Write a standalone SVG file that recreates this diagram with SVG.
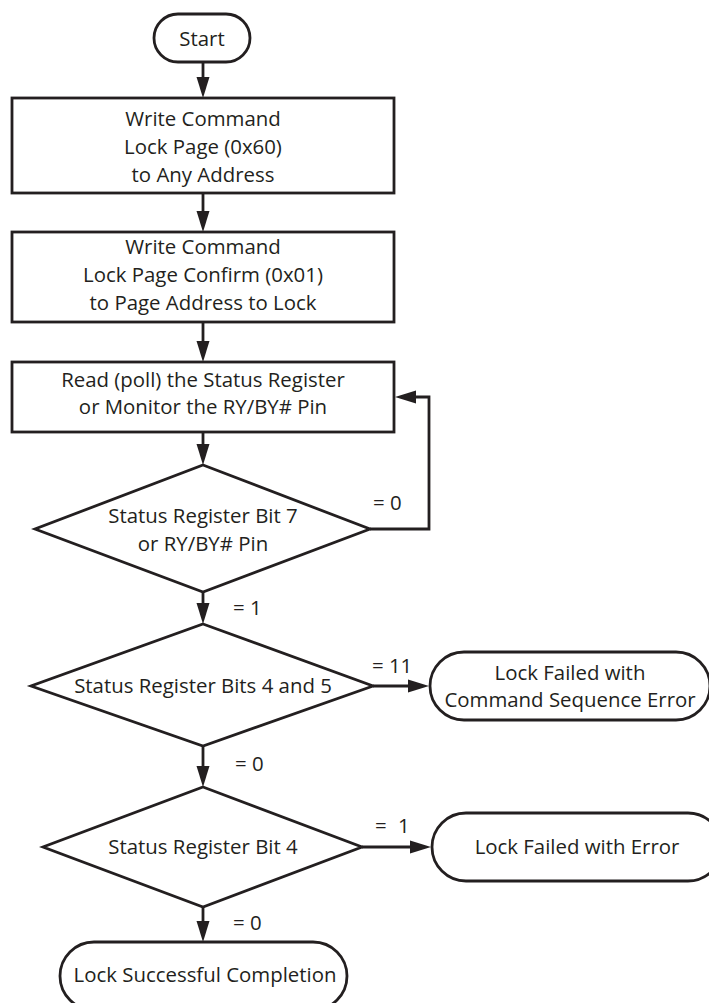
<svg xmlns="http://www.w3.org/2000/svg" width="709" height="1003" viewBox="0 0 709 1003">
  <style>
    .shape { fill: #ffffff; stroke: #231f20; stroke-width: 2.8; }
    .wire { fill: none; stroke: #231f20; stroke-width: 2.8; }
    text { font-family: "Open Sans", "Liberation Sans", sans-serif; font-size: 20.4px; fill: #231f20; }
    .c { text-anchor: middle; }
  </style>
  <defs>
    <marker id="arrow" markerUnits="userSpaceOnUse" markerWidth="22" markerHeight="14" viewBox="0 0 22 14" refX="11" refY="7" orient="auto">
      <path d="M0,0.5 L21,7 L0,13.5 Z" fill="#231f20"/>
    </marker>
  </defs>
  <rect width="709" height="1003" fill="#ffffff"/>

  <g id="connectors">
    <path class="wire" d="M203,62 V88" marker-end="url(#arrow)"/>
    <path class="wire" d="M203,193 V222" marker-end="url(#arrow)"/>
    <path class="wire" d="M203,322 V352" marker-end="url(#arrow)"/>
    <path class="wire" d="M203,432 V455" marker-end="url(#arrow)"/>
    <path class="wire" d="M203,592 V614" marker-end="url(#arrow)"/>
    <path class="wire" d="M203,746 V777" marker-end="url(#arrow)"/>
    <path class="wire" d="M203,907 V932" marker-end="url(#arrow)"/>
    <path class="wire" d="M370,529 H429 V397 H405" marker-end="url(#arrow)"/>
    <path class="wire" d="M373,686 H419" marker-end="url(#arrow)"/>
    <path class="wire" d="M362,847 H421" marker-end="url(#arrow)"/>
    <text x="373" y="510">= 0</text>
    <text x="233" y="615">= 1</text>
    <text x="372" y="673">= 11</text>
    <text x="235" y="771">= 0</text>
    <text x="375" y="833" word-spacing="6">= 1</text>
    <text x="233" y="930">= 0</text>
  </g>

  <g id="start">
    <rect class="shape" x="154" y="14" width="96" height="48" rx="24"/>
    <text class="c" x="202" y="46">Start</text>
  </g>

  <g id="write-lock-page">
    <rect class="shape" x="12" y="98" width="382" height="95"/>
    <text class="c" x="203" y="126.3">Write Command</text>
    <text class="c" x="203" y="154">Lock Page (0x60)</text>
    <text class="c" x="203" y="181.7">to Any Address</text>
  </g>

  <g id="write-lock-confirm">
    <rect class="shape" x="12" y="232" width="382" height="90"/>
    <text class="c" x="203" y="254.3">Write Command</text>
    <text class="c" x="203" y="282">Lock Page Confirm (0x01)</text>
    <text class="c" x="203" y="309.7">to Page Address to Lock</text>
  </g>

  <g id="poll-status">
    <rect class="shape" x="12" y="362" width="382" height="70"/>
    <text class="c" x="203" y="386.5">Read (poll) the Status Register</text>
    <text class="c" x="203" y="414.2">or Monitor the RY/BY# Pin</text>
  </g>

  <g id="check-bit7">
    <polygon class="shape" points="203,465 370,529 203,592 35,529"/>
    <text class="c" x="203" y="523">Status Register Bit 7</text>
    <text class="c" x="203" y="550.7">or RY/BY# Pin</text>
  </g>

  <g id="check-bits45">
    <polygon class="shape" points="203,624 373,686 203,746 31,686"/>
    <text class="c" x="203" y="693">Status Register Bits 4 and 5</text>
  </g>

  <g id="fail-sequence">
    <rect class="shape" x="430" y="652" width="280" height="68" rx="34"/>
    <text class="c" x="570" y="679.5">Lock Failed with</text>
    <text class="c" x="570" y="707.2">Command Sequence Error</text>
  </g>

  <g id="check-bit4">
    <polygon class="shape" points="203,787 362,847 203,907 43,847"/>
    <text class="c" x="203" y="854">Status Register Bit 4</text>
  </g>

  <g id="fail-error">
    <rect class="shape" x="432" y="813" width="290" height="68" rx="34"/>
    <text class="c" x="577" y="854">Lock Failed with Error</text>
  </g>

  <g id="success">
    <rect class="shape" x="60" y="942" width="287" height="68" rx="34"/>
    <text class="c" x="205" y="982">Lock Successful Completion</text>
  </g>
</svg>
